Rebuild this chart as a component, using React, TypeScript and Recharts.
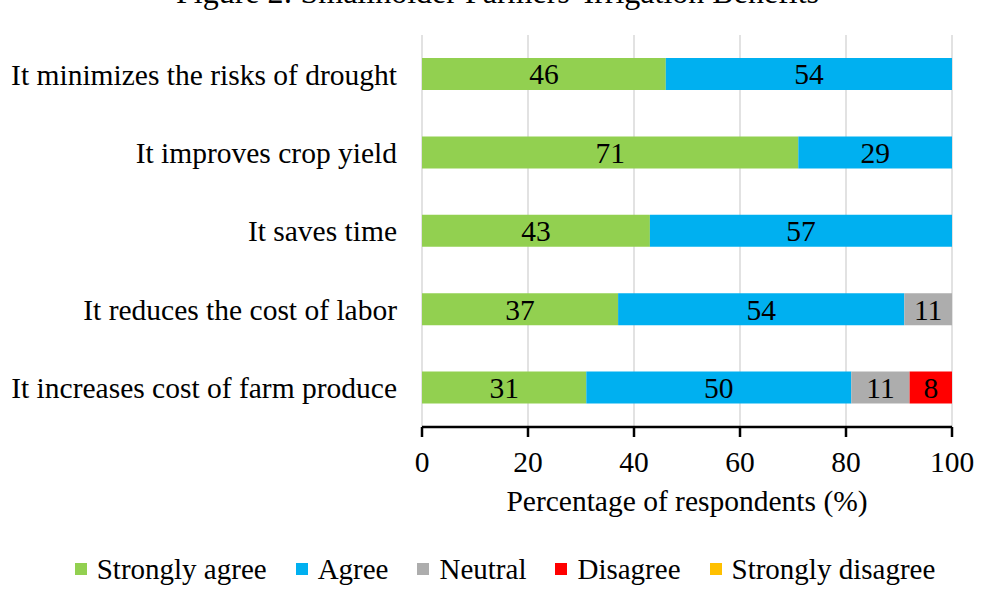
import React from 'react';
import { BarChart, Bar, XAxis, YAxis, CartesianGrid, Legend, LabelList } from 'recharts';

const FONT = '"Liberation Serif", "Times New Roman", serif';

const statements = [
  'It minimizes the risks of drought',
  'It improves crop yield',
  'It saves time',
  'It reduces the cost of labor',
  'It increases cost of farm produce',
];

const stronglyAgree = [46, 71, 43, 37, 31];
const agree = [54, 29, 57, 54, 50];
const neutral = [0, 0, 0, 11, 11];
const disagree = [0, 0, 0, 0, 8];
const stronglyDisagree = [0, 0, 0, 0, 0];

const xTicks = [0, 20, 40, 60, 80, 100];

const series = [
  { key: 'sa', name: 'Strongly agree', color: '#92D050', values: stronglyAgree },
  { key: 'a', name: 'Agree', color: '#00B0F0', values: agree },
  { key: 'n', name: 'Neutral', color: '#ADADAD', values: neutral },
  { key: 'd', name: 'Disagree', color: '#FF0000', values: disagree },
  { key: 'sd', name: 'Strongly disagree', color: '#FFC000', values: stronglyDisagree },
];

const data = statements.map((statement, i) => {
  const row: Record<string, string | number> = { statement };
  series.forEach((s) => {
    row[s.key] = s.values[i];
  });
  return row;
});

const LegendContent = () => (
  <div
    style={{
      height: 40,
      display: 'flex',
      alignItems: 'center',
      justifyContent: 'center',
      paddingLeft: 20,
      fontFamily: FONT,
      fontSize: 29,
      color: '#000',
    }}
  >
    {series.map((s, i) => (
      <div
        key={s.key}
        style={{ display: 'flex', alignItems: 'center', marginLeft: i === 0 ? 0 : 29 }}
      >
        <span style={{ width: 12, height: 12, background: s.color, marginRight: 10, display: 'inline-block' }} />
        <span style={{ lineHeight: '40px' }}>{s.name}</span>
      </div>
    ))}
  </div>
);

export default function App() {
  return (
    <div style={{ position: 'absolute', left: 0, top: 0, width: 990, height: 601, overflow: 'hidden', background: '#fff' }}>
      <div
        style={{
          position: 'absolute',
          left: 0,
          top: -24,
          width: 995,
          textAlign: 'center',
          fontFamily: FONT,
          fontSize: 32,
          lineHeight: '32px',
          color: '#000',
        }}
      >
        Figure 2: Smallholder Farmers' Irrigation Benefits
      </div>
      <BarChart
        width={990}
        height={601}
        data={data}
        layout="vertical"
        margin={{ top: 35, right: 38, left: 0, bottom: 12 }}
        barSize={32}
      >
        <CartesianGrid horizontal={false} stroke="#D9D9D9" strokeWidth={1.5} />
        <XAxis
          type="number"
          domain={[0, 100]}
          ticks={xTicks}
          allowDataOverflow
          height={122}
          axisLine={{ stroke: '#000', strokeWidth: 2.5 }}
          tickLine={{ stroke: '#000', strokeWidth: 2.5 }}
          tickSize={10}
          tickMargin={14}
          tick={{ fill: '#000', fontSize: 29.5, fontFamily: FONT }}
          label={{
            value: 'Percentage of respondents (%)',
            position: 'insideTop',
            offset: 63,
            fill: '#000',
            fontSize: 29.5,
            fontFamily: FONT,
          }}
        />
        <YAxis
          type="category"
          dataKey="statement"
          width={422}
          interval={0}
          axisLine={false}
          tickLine={false}
          tickSize={0}
          tickMargin={25}
          tick={{ fill: '#000', fontSize: 29.5, fontFamily: FONT }}
        />
        <Legend
          verticalAlign="bottom"
          height={40}
          wrapperStyle={{ left: 0, width: 990 }}
          content={<LegendContent />}
        />
        {series.map((s) => (
          <Bar key={s.key} dataKey={s.key} name={s.name} stackId="all" fill={s.color} isAnimationActive={false}>
            <LabelList
              dataKey={s.key}
              position="center"
              fill="#000"
              fontSize={29.5}
              fontFamily={FONT}
              formatter={(v: any) => (v ? v : '')}
            />
          </Bar>
        ))}
      </BarChart>
    </div>
  );
}
